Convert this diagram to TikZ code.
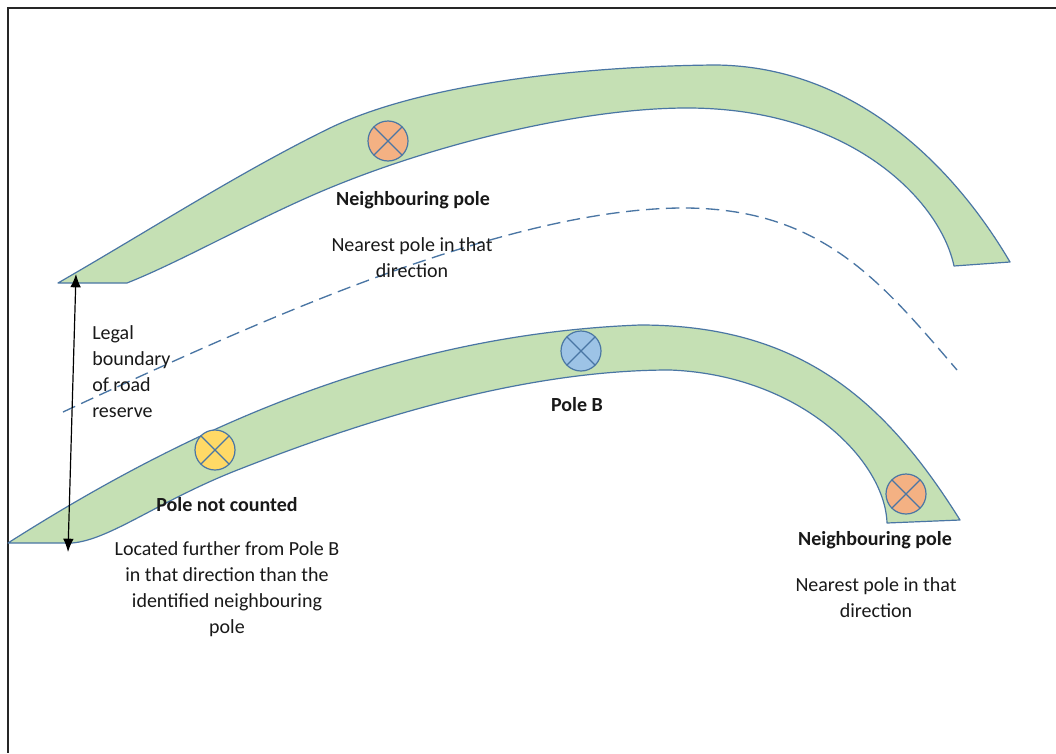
\documentclass[tikz,border=0pt]{standalone}
\usepackage{fontspec}
\setmainfont{Carlito}
\usetikzlibrary{arrows.meta}
\definecolor{bandfill}{HTML}{C5E0B4}
\definecolor{edgecol}{HTML}{4A76A4}
\definecolor{orangepole}{HTML}{F4B183}
\definecolor{yellowpole}{HTML}{FFD966}
\definecolor{bluepole}{HTML}{9DC3E6}
\tikzset{
  band/.style={fill=bandfill, draw=edgecol, line width=0.9pt, line join=round},
  dashline/.style={draw=edgecol, line width=1pt, dash pattern=on 10pt off 5pt},
  pole/.style={circle, draw=edgecol, line width=0.9pt, minimum size=30pt, inner sep=0pt,
    path picture={\draw[edgecol, line width=0.9pt]
      (path picture bounding box.north west) -- (path picture bounding box.south east)
      (path picture bounding box.north east) -- (path picture bounding box.south west);}},
  lbl/.style={inner sep=0pt, text=black!90, font=\fontsize{15}{19.5}\selectfont},
  boldlbl/.style={inner sep=0pt, text=black!90, font=\fontsize{15}{19.5}\selectfont\bfseries},
  framestyle/.style={draw=black!85, line width=1.5pt},
  arrowline/.style={draw=black, line width=0.9pt, {Latex[length=10pt,width=8pt]}-{Latex[length=10pt,width=8pt]}}
}
\begin{document}
\begin{tikzpicture}[x=0.75pt,y=-0.75pt]
\useasboundingbox (0,0) rectangle (1056,753);
\fill[white] (0,0) rectangle (1056,753);
\draw[framestyle] (1056,8) -- (8,8) -- (8,753);

% upper band
\path[band] (58,283) .. controls (150,230) and (240,172) .. (330,128)
  .. controls (430,80) and (600,66) .. (715,65)
  .. controls (850,66) and (950,160) .. (1010,262)
  -- (954,266)
  .. controls (940,200) and (850,108) .. (687,108)
  .. controls (580,108) and (430,145) .. (320,192)
  .. controls (250,222) and (180,262) .. (127,283)
  -- cycle;

% lower band
\path[band] (8,543) .. controls (170,440) and (380,335) .. (640,325)
  .. controls (800,325) and (885,400) .. (960,520)
  -- (887,523)
  .. controls (885,460) and (800,375) .. (670,370)
  .. controls (520,370) and (360,422) .. (240,469)
  .. controls (160,500) and (110,540) .. (72,543)
  -- cycle;

% centre line
\draw[dashline] (63,412) .. controls (250,325) and (500,210) .. (680,208)
  .. controls (820,207) and (880,280) .. (957,370);

% poles
\node[pole, fill=orangepole] (p1) at (388,141) {};
\node[pole, fill=bluepole] (pB) at (581,351) {};
\node[pole, fill=yellowpole] (p3) at (215,450) {};
\node[pole, fill=orangepole] (p4) at (906,494) {};

% labels
\node[boldlbl] (t1) at (413,200) {Neighbouring pole};
\node[lbl, align=center] (t2) at (412,258) {Nearest pole in that\\direction};
\node[boldlbl] (tB) at (577,405) {Pole B};
\node[boldlbl] (t3) at (227,505) {Pole not counted};
\node[lbl, align=center] (t4) at (227,589) {Located further from Pole B\\in that direction than the\\identified neighbouring\\pole};
\node[boldlbl] (t5) at (875,540) {Neighbouring pole};
\node[lbl, align=center] (t6) at (876,598) {Nearest pole in that\\direction};
\node[lbl, align=left, anchor=west] (t7) at (92,372) {Legal\\boundary\\of road\\reserve};

% width arrow
\coordinate (atop) at (76,274);
\coordinate (abot) at (68,552);
\draw[arrowline] (atop) -- (abot);
\end{tikzpicture}
\end{document}
